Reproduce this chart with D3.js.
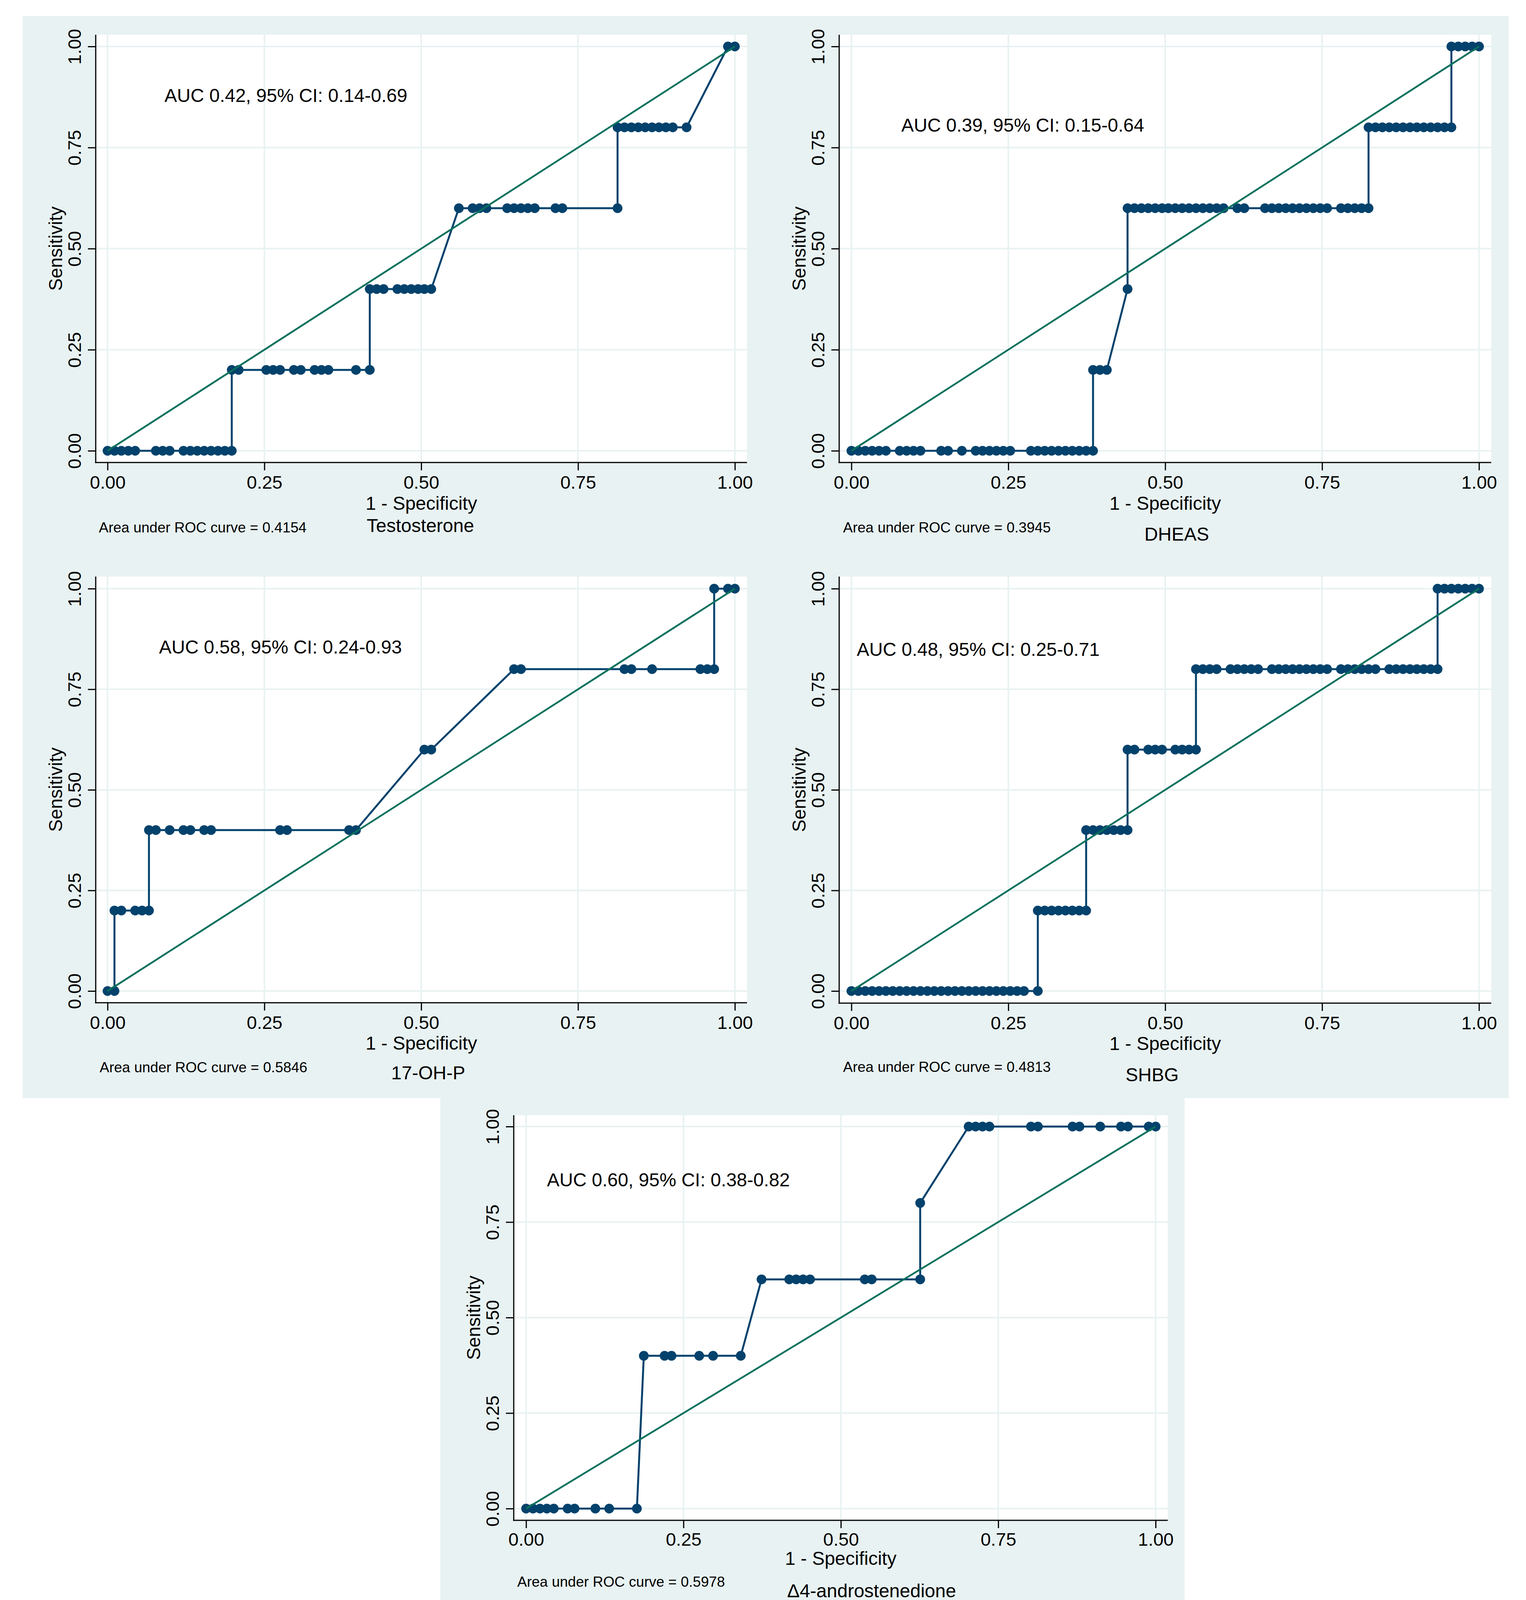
<!DOCTYPE html>
<html>
<head>
<meta charset="utf-8">
<script src="https://cdn.jsdelivr.net/npm/d3@7"></script>
<style>
  body { margin: 0; background: #fff; }
  svg { display: block; }
</style>
</head>
<body>
<script>
// ---------------- DATA ----------------
const tickValues = [0, 0.25, 0.5, 0.75, 1];
const tickLabels = ["0.00", "0.25", "0.50", "0.75", "1.00"];
const panelTitles = ["Testosterone", "DHEAS", "17-OH-P", "SHBG", "\u03944-androstenedione"];
const aucLabels = [
  "AUC 0.42, 95% CI: 0.14-0.69",
  "AUC 0.39, 95% CI: 0.15-0.64",
  "AUC 0.58, 95% CI: 0.24-0.93",
  "AUC 0.48, 95% CI: 0.25-0.71",
  "AUC 0.60, 95% CI: 0.38-0.82"
];
const areaNotes = [
  "Area under ROC curve = 0.4154",
  "Area under ROC curve = 0.3945",
  "Area under ROC curve = 0.5846",
  "Area under ROC curve = 0.4813",
  "Area under ROC curve = 0.5978"
];
const xTitle = "1 - Specificity";
const yTitle = "Sensitivity";

// Testosterone
const testoFpr = [0, .011, .022, .033, .044, .077, .088, .099, .121, .132, .143, .154, .165, .176, .187, .198,
  .198, .209, .253, .264, .275, .297, .308, .330, .341, .352, .396, .418,
  .418, .429, .440, .462, .473, .484, .495, .505, .516,
  .560, .582, .593, .604, .637, .648, .659, .670, .681, .714, .725, .813,
  .813, .824, .835, .846, .857, .868, .879, .890, .901, .923,
  .989, 1];
const testoSens = [0, 0, 0, 0, 0, 0, 0, 0, 0, 0, 0, 0, 0, 0, 0, 0,
  .2, .2, .2, .2, .2, .2, .2, .2, .2, .2, .2, .2,
  .4, .4, .4, .4, .4, .4, .4, .4, .4,
  .6, .6, .6, .6, .6, .6, .6, .6, .6, .6, .6, .6,
  .8, .8, .8, .8, .8, .8, .8, .8, .8, .8,
  1, 1];

// DHEAS
const dheasFpr = [0, .011, .022, .033, .044, .055, .077, .088, .099, .110, .143, .154, .176, .198, .209, .220, .231, .242, .253, .286, .297, .308, .319, .330, .341, .352, .363, .374, .385,
  .385, .396, .407,
  .440,
  .440, .451, .462, .473, .484, .495, .505, .516, .527, .538, .549, .560, .571, .582, .593, .615, .626, .659, .670, .681, .692, .703, .714, .725, .736, .747, .758, .780, .791, .802, .813, .824,
  .824, .835, .846, .857, .868, .879, .890, .901, .912, .923, .934, .945, .956,
  .956, .967, .978, .989, 1];
const dheasSens = [0, 0, 0, 0, 0, 0, 0, 0, 0, 0, 0, 0, 0, 0, 0, 0, 0, 0, 0, 0, 0, 0, 0, 0, 0, 0, 0, 0, 0,
  .2, .2, .2,
  .4,
  .6, .6, .6, .6, .6, .6, .6, .6, .6, .6, .6, .6, .6, .6, .6, .6, .6, .6, .6, .6, .6, .6, .6, .6, .6, .6, .6, .6, .6, .6, .6, .6,
  .8, .8, .8, .8, .8, .8, .8, .8, .8, .8, .8, .8, .8,
  1, 1, 1, 1, 1];

// 17-OH-P
const ohpFpr = [0, .011,
  .011, .022, .044, .055, .066,
  .066, .077, .099, .121, .132, .154, .165, .275, .286, .385, .396,
  .505, .516,
  .648, .659, .824, .835, .868, .945, .956, .967,
  .967, .989, 1];
const ohpSens = [0, 0,
  .2, .2, .2, .2, .2,
  .4, .4, .4, .4, .4, .4, .4, .4, .4, .4, .4,
  .6, .6,
  .8, .8, .8, .8, .8, .8, .8, .8,
  1, 1, 1];

// SHBG
const shbgFpr = [0, .011, .022, .033, .044, .055, .066, .077, .088, .099, .110, .121, .132, .143, .154, .165, .176, .187, .198, .209, .220, .231, .242, .253, .264, .275, .297,
  .297, .308, .319, .330, .341, .352, .363, .374,
  .374, .385, .396, .407, .418, .429, .440,
  .440, .451, .473, .484, .495, .516, .527, .538, .549,
  .549, .560, .571, .582, .604, .615, .626, .637, .648, .670, .681, .692, .703, .714, .725, .736, .747, .758, .780, .791, .802, .813, .824, .835, .857, .868, .879, .890, .901, .912, .923, .934,
  .934, .945, .956, .967, .978, .989, 1];
const shbgSens = [0, 0, 0, 0, 0, 0, 0, 0, 0, 0, 0, 0, 0, 0, 0, 0, 0, 0, 0, 0, 0, 0, 0, 0, 0, 0, 0,
  .2, .2, .2, .2, .2, .2, .2, .2,
  .4, .4, .4, .4, .4, .4, .4,
  .6, .6, .6, .6, .6, .6, .6, .6, .6,
  .8, .8, .8, .8, .8, .8, .8, .8, .8, .8, .8, .8, .8, .8, .8, .8, .8, .8, .8, .8, .8, .8, .8, .8, .8, .8, .8, .8, .8, .8, .8, .8,
  1, 1, 1, 1, 1, 1, 1];

// Delta4-androstenedione
const androFpr = [0, .011, .022, .033, .044, .066, .077, .110, .132, .176,
  .187, .220, .231, .275, .297, .341,
  .374, .418, .429, .440, .451, .538, .549, .626,
  .626,
  .703, .714, .725, .736, .802, .813, .868, .879, .912, .945, .956, .989, 1];
const androSens = [0, 0, 0, 0, 0, 0, 0, 0, 0, 0,
  .4, .4, .4, .4, .4, .4,
  .6, .6, .6, .6, .6, .6, .6, .6,
  .8,
  1, 1, 1, 1, 1, 1, 1, 1, 1, 1, 1, 1, 1];

// ---------------- LAYOUT / STYLE ----------------
const W = 3906, H = 4162;
const FONT = "'Liberation Sans', Arial, Helvetica, sans-serif";
const BG = "#e8f2f2";
const GRID = "#e8f2f2";
const NAVY = "#03426c";
const GREEN = "#07705c";

const bgRects = [
  { x: 58, y: 41, w: 3804, h: 2770 },
  { x: 1127, y: 2811, w: 1905, h: 1307 }
];

const layout = [
  { l: 245, r: 1912, t: 89, b: 1184, x0: 275.3, x1: 1881, y0: 1154, y1: 119,
    auc: [421, 261], note: [253, 1363], title: [1076, 1362], tickY: 67, xtY: 121 },
  { l: 2148, r: 3817, t: 89, b: 1184, x0: 2179.3, x1: 3785.7, y0: 1154, y1: 119,
    auc: [2307, 337], note: [2158, 1363], title: [3012, 1384], tickY: 67, xtY: 121 },
  { l: 245, r: 1912, t: 1476, b: 2567, x0: 275.3, x1: 1881, y0: 2537, y1: 1507,
    auc: [407, 1673], note: [255, 2745], title: [1096, 2763], tickY: 67, xtY: 120 },
  { l: 2148, r: 3817, t: 1476, b: 2568, x0: 2179.3, x1: 3785.7, y0: 2537, y1: 1507,
    auc: [2193, 1679], note: [2158, 2744], title: [2949, 2768], tickY: 67, xtY: 120 },
  { l: 1315, r: 2989, t: 2855, b: 3892, x0: 1346.6, x1: 2958, y0: 3862, y1: 2884,
    auc: [1400, 3037], note: [1324, 4062], title: [2231, 4089], tickY: 65, xtY: 114 }
];

const series = [
  [testoFpr, testoSens],
  [dheasFpr, dheasSens],
  [ohpFpr, ohpSens],
  [shbgFpr, shbgSens],
  [androFpr, androSens]
];

// ---------------- DRAW ----------------
const svg = d3.select("body").append("svg")
  .attr("width", W).attr("height", H)
  .attr("font-family", FONT);

svg.append("rect").attr("width", W).attr("height", H).attr("fill", "#fff");

svg.selectAll("rect.bg").data(bgRects).join("rect")
  .attr("class", "bg")
  .attr("x", d => d.x).attr("y", d => d.y)
  .attr("width", d => d.w).attr("height", d => d.h)
  .attr("fill", BG);

series.forEach((s, i) => {
  const L = layout[i];
  const x = d3.scaleLinear().domain([0, 1]).range([L.x0, L.x1]);
  const y = d3.scaleLinear().domain([0, 1]).range([L.y0, L.y1]);
  const g = svg.append("g");

  // plot region
  g.append("rect").attr("x", L.l).attr("y", L.t)
    .attr("width", L.r - L.l).attr("height", L.b - L.t).attr("fill", "#fff");

  // gridlines
  g.selectAll("line.vg").data(tickValues).join("line").attr("class", "vg")
    .attr("x1", d => x(d)).attr("x2", d => x(d))
    .attr("y1", L.t).attr("y2", L.b)
    .attr("stroke", GRID).attr("stroke-width", 4);
  g.selectAll("line.hg").data(tickValues).join("line").attr("class", "hg")
    .attr("y1", d => y(d)).attr("y2", d => y(d))
    .attr("x1", L.l).attr("x2", L.r)
    .attr("stroke", GRID).attr("stroke-width", 4);

  // x axis
  const xa = g.append("g").attr("transform", `translate(0,${L.b})`)
    .call(d3.axisBottom(x).tickValues(tickValues).tickSize(20)
      .tickFormat((d, j) => tickLabels[j]));
  xa.attr("font-family", FONT).attr("font-size", 47);
  xa.select(".domain").remove();
  xa.selectAll(".tick line").attr("stroke", "#000").attr("stroke-width", 3);
  xa.selectAll(".tick text").attr("y", L.tickY).attr("dy", null).attr("fill", "#000");

  // y axis
  const ya = g.append("g").attr("transform", `translate(${L.l},0)`)
    .call(d3.axisLeft(y).tickValues(tickValues).tickSize(20)
      .tickFormat((d, j) => tickLabels[j]));
  ya.attr("font-family", FONT).attr("font-size", 47);
  ya.select(".domain").remove();
  ya.selectAll(".tick line").attr("stroke", "#000").attr("stroke-width", 3);
  ya.selectAll(".tick text")
    .attr("x", null).attr("dy", null)
    .attr("text-anchor", "middle")
    .attr("transform", "translate(-38,0) rotate(-90)")
    .attr("fill", "#000");

  // axis lines
  g.append("line").attr("x1", L.l - 1.5).attr("x2", L.r).attr("y1", L.b).attr("y2", L.b)
    .attr("stroke", "#000").attr("stroke-width", 3);
  g.append("line").attr("x1", L.l).attr("x2", L.l).attr("y1", L.t).attr("y2", L.b + 1.5)
    .attr("stroke", "#000").attr("stroke-width", 3);

  // ROC curve
  const pts = d3.zip(s[0], s[1]);
  g.append("path").datum(pts)
    .attr("d", d3.line().x(d => x(d[0])).y(d => y(d[1])))
    .attr("fill", "none").attr("stroke", NAVY).attr("stroke-width", 5)
    .attr("stroke-linejoin", "round");
  g.selectAll("circle.pt").data(pts).join("circle").attr("class", "pt")
    .attr("cx", d => x(d[0])).attr("cy", d => y(d[1])).attr("r", 12.5)
    .attr("fill", NAVY);

  // reference line
  g.append("line")
    .attr("x1", x(0)).attr("y1", y(0)).attr("x2", x(1)).attr("y2", y(1))
    .attr("stroke", GREEN).attr("stroke-width", 4.5);

  // texts
  g.append("text").attr("x", L.auc[0]).attr("y", L.auc[1])
    .attr("font-size", 48).attr("fill", "#000").text(aucLabels[i]);
  g.append("text").attr("x", (L.l + L.r) / 2).attr("y", L.b + L.xtY)
    .attr("text-anchor", "middle").attr("font-size", 48).attr("fill", "#000").text(xTitle);
  g.append("text")
    .attr("transform", `translate(${L.l - 86},${(L.t + L.b) / 2}) rotate(-90)`)
    .attr("text-anchor", "middle").attr("font-size", 48).attr("fill", "#000").text(yTitle);
  g.append("text").attr("x", L.note[0]).attr("y", L.note[1])
    .attr("font-size", 37).attr("fill", "#000").text(areaNotes[i]);
  g.append("text").attr("x", L.title[0]).attr("y", L.title[1])
    .attr("text-anchor", "middle").attr("font-size", 48).attr("fill", "#000").text(panelTitles[i]);
});
</script>
</body>
</html>
